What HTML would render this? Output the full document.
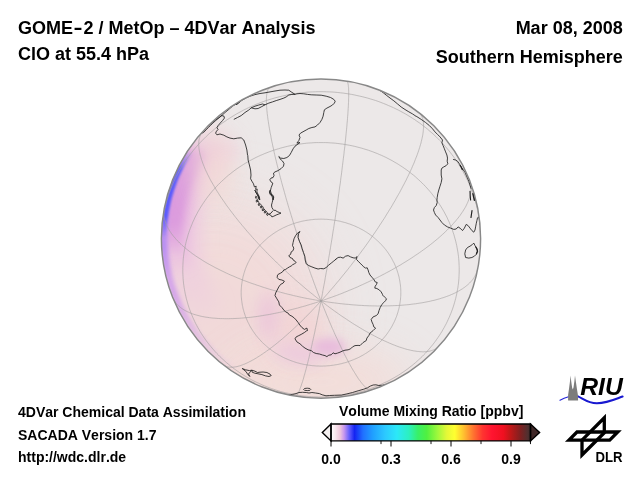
<!DOCTYPE html>
<html><head><meta charset="utf-8"><title>GOME-2 / MetOp - 4DVar Analysis</title>
<style>
html,body{margin:0;padding:0;background:#fff;}
body{width:640px;height:480px;overflow:hidden;position:relative;font-family:"Liberation Sans",Arial,Helvetica,sans-serif;font-weight:bold;color:#000;}
.t{position:absolute;white-space:pre;line-height:1;font-kerning:none;}
.big{font-size:18px;}
.sm{font-size:14px;}
svg{position:absolute;left:0;top:0;}
</style></head><body>
<svg width="640" height="480" viewBox="0 0 640 480">
<defs>
<clipPath id="gc"><circle cx="321.0" cy="238.6" r="159.6"/></clipPath>
<filter id="b30" filterUnits="userSpaceOnUse" x="0" y="0" width="640" height="480"><feGaussianBlur stdDeviation="30"/></filter>
<filter id="b20" filterUnits="userSpaceOnUse" x="0" y="0" width="640" height="480"><feGaussianBlur stdDeviation="20"/></filter>
<filter id="b12" filterUnits="userSpaceOnUse" x="0" y="0" width="640" height="480"><feGaussianBlur stdDeviation="12"/></filter>
<filter id="b8" filterUnits="userSpaceOnUse" x="0" y="0" width="640" height="480"><feGaussianBlur stdDeviation="8"/></filter>
<filter id="b5" filterUnits="userSpaceOnUse" x="0" y="0" width="640" height="480"><feGaussianBlur stdDeviation="5"/></filter>
<filter id="b3" filterUnits="userSpaceOnUse" x="0" y="0" width="640" height="480"><feGaussianBlur stdDeviation="3"/></filter>
<filter id="b2" filterUnits="userSpaceOnUse" x="0" y="0" width="640" height="480"><feGaussianBlur stdDeviation="2"/></filter>
<filter id="b1" filterUnits="userSpaceOnUse" x="0" y="0" width="640" height="480"><feGaussianBlur stdDeviation="1.1"/></filter>
<linearGradient id="lg1" gradientUnits="userSpaceOnUse" x1="0" y1="120" x2="0" y2="330"><stop offset="0" stop-color="#eecbe0" stop-opacity="0"/><stop offset="0.2" stop-color="#eecbe0" stop-opacity="1"/><stop offset="0.6" stop-color="#eecbe0" stop-opacity="1"/><stop offset="1" stop-color="#eecbe0" stop-opacity="0"/></linearGradient><linearGradient id="lg2" gradientUnits="userSpaceOnUse" x1="0" y1="132" x2="0" y2="275"><stop offset="0" stop-color="#e6b4e0" stop-opacity="0"/><stop offset="0.2" stop-color="#e6b4e0" stop-opacity="1"/><stop offset="0.65" stop-color="#e6b4e0" stop-opacity="1"/><stop offset="1" stop-color="#e6b4e0" stop-opacity="0"/></linearGradient><linearGradient id="lg3" gradientUnits="userSpaceOnUse" x1="0" y1="143" x2="0" y2="255"><stop offset="0" stop-color="#dc9cde" stop-opacity="0"/><stop offset="0.12" stop-color="#dc9cde" stop-opacity="1"/><stop offset="0.7" stop-color="#dc9cde" stop-opacity="1"/><stop offset="1" stop-color="#dc9cde" stop-opacity="0"/></linearGradient><linearGradient id="lg4" gradientUnits="userSpaceOnUse" x1="0" y1="215" x2="0" y2="372"><stop offset="0" stop-color="#d4a4ea" stop-opacity="0"/><stop offset="0.15" stop-color="#d4a4ea" stop-opacity="1"/><stop offset="0.5" stop-color="#d4a4ea" stop-opacity="1"/><stop offset="1" stop-color="#d4a4ea" stop-opacity="0"/></linearGradient><linearGradient id="lg5" gradientUnits="userSpaceOnUse" x1="0" y1="195" x2="0" y2="280"><stop offset="0" stop-color="#b48cf4" stop-opacity="0"/><stop offset="0.3" stop-color="#b48cf4" stop-opacity="1"/><stop offset="0.6" stop-color="#b48cf4" stop-opacity="1"/><stop offset="1" stop-color="#b48cf4" stop-opacity="0"/></linearGradient><linearGradient id="lg6" gradientUnits="userSpaceOnUse" x1="0" y1="150" x2="0" y2="238"><stop offset="0" stop-color="#5c5cfc" stop-opacity="0"/><stop offset="0.22" stop-color="#5c5cfc" stop-opacity="1"/><stop offset="0.75" stop-color="#5c5cfc" stop-opacity="1"/><stop offset="1" stop-color="#5c5cfc" stop-opacity="0"/></linearGradient><linearGradient id="cb" x1="0" x2="1" y1="0" y2="0">
<stop offset="0" stop-color="#ffffff"/>
<stop offset="0.02" stop-color="#faeaf0"/>
<stop offset="0.045" stop-color="#f0c8dc"/>
<stop offset="0.065" stop-color="#c898ee"/>
<stop offset="0.09" stop-color="#6a62fc"/>
<stop offset="0.118" stop-color="#1424f2"/>
<stop offset="0.16" stop-color="#2070ff"/>
<stop offset="0.21" stop-color="#20a0ff"/>
<stop offset="0.27" stop-color="#2cc8ff"/>
<stop offset="0.33" stop-color="#2ce8f8"/>
<stop offset="0.39" stop-color="#2cf0c0"/>
<stop offset="0.435" stop-color="#38f068"/>
<stop offset="0.48" stop-color="#50f040"/>
<stop offset="0.535" stop-color="#a0f83c"/>
<stop offset="0.58" stop-color="#e4f838"/>
<stop offset="0.62" stop-color="#ffff30"/>
<stop offset="0.665" stop-color="#ffc030"/>
<stop offset="0.713" stop-color="#ff7430"/>
<stop offset="0.76" stop-color="#ff3430"/>
<stop offset="0.807" stop-color="#ff1430"/>
<stop offset="0.864" stop-color="#f01020"/>
<stop offset="0.9" stop-color="#c01818"/>
<stop offset="0.949" stop-color="#802020"/>
<stop offset="0.986" stop-color="#503030"/>
<stop offset="1" stop-color="#402828"/>
</linearGradient>
</defs>
<circle cx="321.0" cy="238.6" r="159.6" fill="#ece8e8"/>
<g clip-path="url(#gc)" id="field">
<ellipse cx="212" cy="312" rx="112" ry="112" fill="#f2d9d8" filter="url(#b30)" opacity="0.95"/>
<ellipse cx="320" cy="382" rx="90" ry="36" fill="#f3dcd8" filter="url(#b20)" opacity="0.9"/>
<path d="M224.9,131.9L221.0,135.5L217.3,139.3L213.6,143.2L210.2,147.3L206.9,151.5L203.7,155.7L200.7,160.2L197.9,164.7L195.2,169.3L192.7,174.0L190.4,178.8L188.3,183.7L186.4,188.7L184.6,193.7L183.0,198.8L181.6,203.9L180.5,209.1L179.5,214.4L178.7,219.6L178.1,224.9L177.6,230.2L177.4,235.6L177.4,240.9L177.6,246.2L178.0,251.5L178.6,256.8L179.3,262.1L180.3,267.3L181.5,272.5L182.8,277.7L184.4,282.8L186.1,287.8L188.0,292.8L190.1,297.7L192.4,302.5L194.9,307.2L197.5,311.9L200.3,316.4L203.3,320.8" fill="none" stroke="url(#lg1)" stroke-width="46" filter="url(#b8)"/>
<path d="M211.2,140.0L208.8,142.8L206.4,145.5L204.2,148.4L202.0,151.3L199.9,154.3L197.8,157.3L195.9,160.3L194.0,163.5L192.1,166.6L190.4,169.8L188.8,173.0L187.2,176.3L185.7,179.6L184.3,183.0L182.9,186.4L181.7,189.8L180.5,193.3L179.5,196.7L178.5,200.2L177.6,203.8L176.8,207.3L176.0,210.9L175.4,214.4L174.8,218.0L174.4,221.7L174.0,225.3L173.7,228.9L173.5,232.5L173.4,236.2L173.4,239.8L173.5,243.4L173.6,247.1L173.9,250.7L174.2,254.3L174.7,258.0L175.2,261.6L175.8,265.1L176.5,268.7L177.3,272.3" fill="none" stroke="url(#lg2)" stroke-width="30" filter="url(#b5)"/>
<path d="M200.4,148.4L198.7,150.7L197.0,153.1L195.4,155.4L193.9,157.9L192.4,160.3L190.9,162.8L189.5,165.3L188.1,167.8L186.7,170.4L185.5,172.9L184.2,175.5L183.1,178.2L181.9,180.8L180.9,183.5L179.8,186.2L178.8,188.9L177.9,191.6L177.1,194.3L176.2,197.1L175.5,199.9L174.8,202.7L174.1,205.5L173.5,208.3L172.9,211.1L172.4,213.9L172.0,216.8L171.6,219.6L171.3,222.5L171.0,225.3L170.8,228.2L170.6,231.1L170.5,234.0L170.4,236.8L170.4,239.7L170.5,242.6L170.6,245.5L170.7,248.3L170.9,251.2L171.2,254.1" fill="none" stroke="url(#lg3)" stroke-width="22" filter="url(#b3)"/>
<path d="M165.6,215.4L165.0,219.9L164.5,224.5L164.2,229.0L164.0,233.6L163.9,238.2L164.0,242.8L164.1,247.4L164.5,251.9L164.9,256.5L165.5,261.1L166.2,265.6L167.1,270.1L168.1,274.6L169.2,279.0L170.4,283.4L171.8,287.8L173.3,292.1L174.9,296.4L176.7,300.6L178.5,304.8L180.5,309.0L182.7,313.0L184.9,317.0L187.2,321.0L189.7,324.8L192.3,328.6L194.9,332.4L197.7,336.0L200.6,339.5L203.6,343.0L206.7,346.4L209.9,349.7L213.2,352.9L216.6,356.0L220.1,359.0L223.6,361.9L227.2,364.7L231.0,367.3L234.8,369.9" fill="none" stroke="url(#lg4)" stroke-width="7.5" filter="url(#b2)"/>
<path d="M169.4,195.5L168.8,197.6L168.3,199.8L167.7,201.9L167.2,204.0L166.8,206.1L166.3,208.3L165.9,210.4L165.6,212.5L165.2,214.7L164.9,216.8L164.6,219.0L164.4,221.2L164.1,223.3L163.9,225.5L163.8,227.7L163.6,229.9L163.5,232.0L163.5,234.2L163.4,236.4L163.4,238.6L163.4,240.7L163.5,242.9L163.5,245.1L163.6,247.3L163.8,249.4L163.9,251.6L164.1,253.8L164.4,256.0L164.6,258.1L164.9,260.3L165.2,262.4L165.6,264.6L165.9,266.7L166.3,268.9L166.8,271.0L167.2,273.1L167.7,275.3L168.2,277.4L168.8,279.5" fill="none" stroke="url(#lg5)" stroke-width="6" filter="url(#b2)"/>
<path d="M190.2,151.3L189.0,153.3L187.7,155.3L186.5,157.3L185.3,159.3L184.1,161.4L182.9,163.4L181.8,165.5L180.7,167.6L179.7,169.7L178.7,171.8L177.7,174.0L176.7,176.1L175.8,178.3L174.9,180.5L174.1,182.7L173.3,184.9L172.5,187.1L171.7,189.4L171.0,191.6L170.3,193.9L169.6,196.1L169.0,198.4L168.4,200.7L167.9,203.0L167.4,205.3L166.9,207.6L166.4,209.9L166.0,212.2L165.7,214.5L165.3,216.9L165.0,219.2L164.7,221.5L164.5,223.9L164.3,226.2L164.1,228.6L164.0,230.9L163.9,233.3L163.8,235.7L163.8,238.0" fill="none" stroke="url(#lg6)" stroke-width="5.4" filter="url(#b1)"/>
<ellipse cx="300" cy="328" rx="24" ry="28" fill="#f2d3d4" filter="url(#b12)" opacity="0.9"/>
<ellipse cx="268" cy="316" rx="9" ry="24" fill="#ecc6da" filter="url(#b8)"/>
<ellipse cx="298" cy="354" rx="26" ry="8" fill="#ecc8de" filter="url(#b8)" transform="rotate(12 298 354)"/>
<ellipse cx="329" cy="347" rx="17" ry="9" fill="#e8bcdc" filter="url(#b5)"/>
<ellipse cx="214" cy="168" rx="20" ry="40" fill="#f2dad6" filter="url(#b12)" opacity="0.85"/>
</g>
<path d="M321.0,301.0L320.5,303.5L320.0,306.0L319.5,308.4L319.1,310.9L318.6,313.3L318.1,315.7L317.6,318.1L317.1,320.5L316.7,322.8L316.2,325.1L315.7,327.4L315.2,329.7L314.8,331.9L314.3,334.1L313.8,336.3L313.4,338.4L312.9,340.5L312.4,342.6L312.0,344.7L311.5,346.7L311.1,348.7L310.6,350.6L310.2,352.5L309.7,354.4L309.3,356.3L308.9,358.1L308.4,359.8L308.0,361.6L307.6,363.3L307.1,364.9L306.7,366.6L306.3,368.2L305.9,369.7L305.5,371.2L305.1,372.7L304.7,374.1L304.3,375.5L303.9,376.8L303.6,378.1L303.2,379.4L302.8,380.6L302.5,381.8L302.1,382.9L301.7,384.0L301.4,385.0L301.1,386.0L300.7,386.9L300.4,387.8L300.1,388.7L299.8,389.5L299.5,390.3L299.2,391.0L298.9,391.7L298.6,392.3L298.3,392.9L298.0,393.4L297.8,393.9L297.5,394.3L297.2,394.7L297.0,395.1L296.8,395.4L296.5,395.6L296.3,395.8L296.1,396.0L295.9,396.1L295.7,396.1L295.5,396.1M321.0,301.0L319.2,302.9L317.4,304.9L315.6,306.8L313.8,308.7L312.1,310.5L310.3,312.4L308.5,314.2L306.7,316.0L305.0,317.8L303.2,319.6L301.4,321.3L299.7,323.0L297.9,324.7L296.2,326.3L294.4,328.0L292.7,329.6L291.0,331.1L289.3,332.7L287.6,334.2L285.9,335.7L284.2,337.2L282.6,338.6L280.9,340.0L279.3,341.3L277.6,342.7L276.0,344.0L274.4,345.3L272.8,346.5L271.3,347.7L269.7,348.9L268.2,350.0L266.6,351.1L265.1,352.2L263.6,353.2L262.2,354.2L260.7,355.2L259.3,356.1L257.8,357.0L256.4,357.9L255.1,358.7L253.7,359.5L252.4,360.2L251.0,361.0L249.7,361.6L248.5,362.3L247.2,362.9L246.0,363.4L244.8,364.0L243.6,364.4L242.4,364.9L241.3,365.3L240.2,365.7L239.1,366.0L238.0,366.3L237.0,366.6L235.9,366.8L235.0,366.9L234.0,367.1L233.1,367.2L232.2,367.2L231.3,367.3L230.4,367.2L229.6,367.2L228.8,367.1L228.0,367.0L227.3,366.8L226.6,366.6L225.9,366.3L225.2,366.0L224.6,365.7L224.0,365.3M321.0,301.0L318.4,301.8L315.8,302.7L313.2,303.5L310.5,304.3L307.9,305.1L305.3,305.9L302.7,306.6L300.1,307.3L297.5,308.1L295.0,308.7L292.4,309.4L289.8,310.0L287.3,310.7L284.7,311.3L282.2,311.8L279.7,312.4L277.2,312.9L274.7,313.4L272.2,313.9L269.7,314.4L267.3,314.8L264.8,315.2L262.4,315.6L260.0,316.0L257.6,316.4L255.3,316.7L252.9,317.0L250.6,317.3L248.3,317.5L246.0,317.7L243.8,317.9L241.5,318.1L239.3,318.3L237.1,318.4L235.0,318.5L232.8,318.6L230.7,318.6L228.7,318.7L226.6,318.7L224.6,318.7L222.6,318.6L220.6,318.6L218.7,318.5L216.8,318.4L215.0,318.2L213.1,318.1L211.3,317.9L209.5,317.7L207.8,317.4L206.1,317.2L204.4,316.9L202.8,316.6L201.2,316.3L199.7,315.9L198.1,315.5L196.7,315.1L195.2,314.7L193.8,314.3L192.4,313.8L191.1,313.3L189.8,312.8L188.6,312.2L187.4,311.7L186.2,311.1L185.1,310.5L184.0,309.9L182.9,309.2L181.9,308.5L181.0,307.9L180.1,307.1L179.2,306.4L178.4,305.7L177.6,304.9L176.8,304.1L176.1,303.3L175.5,302.4L174.9,301.6L174.3,300.7L173.8,299.8L173.3,298.9L172.9,298.0M321.0,301.0L318.3,300.5L315.5,300.0L312.8,299.5L310.0,299.0L307.3,298.5L304.6,298.0L301.8,297.4L299.1,296.8L296.4,296.2L293.7,295.6L291.0,294.9L288.3,294.3L285.6,293.6L283.0,292.9L280.3,292.2L277.7,291.5L275.0,290.8L272.4,290.0L269.8,289.3L267.2,288.5L264.7,287.7L262.1,286.9L259.6,286.0L257.1,285.2L254.6,284.3L252.1,283.5L249.6,282.6L247.2,281.7L244.8,280.8L242.4,279.9L240.0,278.9L237.7,278.0L235.4,277.0L233.1,276.0L230.8,275.1L228.6,274.1L226.4,273.1L224.2,272.0L222.1,271.0L220.0,270.0L217.9,268.9L215.8,267.9L213.8,266.8L211.8,265.7L209.9,264.7L207.9,263.6L206.0,262.5L204.2,261.4L202.4,260.3L200.6,259.1L198.9,258.0L197.1,256.9L195.5,255.8L193.8,254.6L192.2,253.5L190.7,252.3L189.2,251.2L187.7,250.0L186.3,248.9L184.9,247.7L183.5,246.5L182.2,245.4L181.0,244.2L179.7,243.0L178.6,241.8L177.4,240.7L176.3,239.5L175.3,238.3L174.3,237.1L173.3,236.0L172.4,234.8L171.5,233.6L170.7,232.4L169.9,231.3L169.2,230.1L168.5,228.9L167.9,227.8L167.3,226.6L166.7,225.5L166.2,224.3L165.8,223.2L165.4,222.0L165.0,220.9L164.7,219.7L164.4,218.6L164.2,217.5L164.0,216.4L163.9,215.3L163.8,214.2L163.8,213.1L163.8,212.0L163.9,210.9L164.0,209.9L164.2,208.8M321.0,301.0L318.9,299.3L316.7,297.6L314.6,295.9L312.5,294.2L310.3,292.5L308.2,290.7L306.1,289.0L304.0,287.2L301.9,285.4L299.8,283.6L297.7,281.8L295.6,280.0L293.5,278.1L291.4,276.3L289.4,274.4L287.3,272.5L285.3,270.6L283.2,268.7L281.2,266.8L279.2,264.9L277.2,263.0L275.2,261.0L273.2,259.1L271.3,257.2L269.3,255.2L267.4,253.3L265.5,251.3L263.6,249.3L261.7,247.4L259.9,245.4L258.0,243.4L256.2,241.4L254.4,239.5L252.6,237.5L250.9,235.5L249.1,233.5L247.4,231.6L245.7,229.6L244.1,227.6L242.4,225.7L240.8,223.7L239.2,221.8L237.6,219.8L236.1,217.9L234.5,215.9L233.1,214.0L231.6,212.1L230.1,210.1L228.7,208.2L227.3,206.3L226.0,204.5L224.7,202.6L223.4,200.7L222.1,198.9L220.8,197.0L219.6,195.2L218.5,193.4L217.3,191.6L216.2,189.8L215.1,188.0L214.1,186.2L213.1,184.5L212.1,182.8L211.1,181.1L210.2,179.4L209.3,177.7L208.5,176.0L207.6,174.4L206.9,172.8L206.1,171.2L205.4,169.6L204.7,168.1L204.1,166.5L203.5,165.0L202.9,163.5L202.4,162.1L201.9,160.6L201.4,159.2L201.0,157.8L200.6,156.4L200.2,155.1L199.9,153.8L199.7,152.5L199.4,151.2L199.2,150.0L199.0,148.7L198.9,147.6L198.8,146.4L198.8,145.3L198.7,144.2L198.8,143.1L198.8,142.0L198.9,141.0L199.0,140.0L199.2,139.1L199.4,138.2L199.7,137.3L199.9,136.4L200.2,135.6L200.6,134.8L201.0,134.0L201.4,133.3L201.9,132.6L202.4,131.9L202.9,131.2M321.0,301.0L320.0,298.5L319.1,296.1L318.1,293.7L317.2,291.2L316.2,288.7L315.3,286.2L314.3,283.7L313.4,281.1L312.5,278.6L311.5,276.0L310.6,273.5L309.7,270.9L308.7,268.3L307.8,265.7L306.9,263.1L306.0,260.5L305.0,257.9L304.1,255.2L303.2,252.6L302.3,250.0L301.4,247.3L300.6,244.7L299.7,242.1L298.8,239.4L297.9,236.8L297.1,234.1L296.2,231.5L295.4,228.8L294.5,226.2L293.7,223.6L292.9,221.0L292.1,218.3L291.3,215.7L290.5,213.1L289.7,210.5L288.9,207.9L288.1,205.3L287.4,202.7L286.6,200.2L285.9,197.6L285.2,195.1L284.5,192.6L283.8,190.1L283.1,187.6L282.4,185.1L281.7,182.6L281.1,180.2L280.4,177.7L279.8,175.3L279.2,172.9L278.6,170.6L278.0,168.2L277.4,165.9L276.8,163.6L276.3,161.3L275.7,159.0L275.2,156.8L274.7,154.6L274.2,152.4L273.7,150.2L273.3,148.1L272.8,146.0L272.4,143.9L271.9,141.9L271.5,139.8L271.1,137.8L270.8,135.9L270.4,134.0L270.0,132.1L269.7,130.2L269.4,128.4L269.1,126.6L268.8,124.8L268.5,123.1L268.3,121.4L268.0,119.7L267.8,118.1L267.6,116.5L267.4,115.0L267.2,113.5L267.1,112.0L266.9,110.6L266.8,109.2L266.7,107.8L266.6,106.5L266.5,105.2L266.5,104.0L266.4,102.8L266.4,101.7L266.4,100.5L266.4,99.5L266.4,98.5L266.5,97.5L266.5,96.5L266.6,95.6L266.7,94.8L266.8,94.0L266.9,93.2L267.1,92.5L267.2,91.8L267.4,91.2L267.6,90.6L267.8,90.1L268.0,89.6L268.3,89.1L268.5,88.7L268.8,88.3L269.1,88.0L269.4,87.8L269.7,87.5L270.0,87.4M321.0,301.0L321.5,298.4L322.0,295.9L322.5,293.3L322.9,290.7L323.4,288.1L323.9,285.5L324.4,282.9L324.9,280.2L325.3,277.6L325.8,274.9L326.3,272.2L326.8,269.5L327.2,266.8L327.7,264.1L328.2,261.4L328.6,258.7L329.1,255.9L329.6,253.2L330.0,250.5L330.5,247.7L330.9,245.0L331.4,242.2L331.8,239.5L332.3,236.7L332.7,234.0L333.1,231.2L333.6,228.5L334.0,225.7L334.4,223.0L334.9,220.3L335.3,217.5L335.7,214.8L336.1,212.1L336.5,209.4L336.9,206.7L337.3,204.0L337.7,201.3L338.1,198.7L338.4,196.0L338.8,193.4L339.2,190.7L339.5,188.1L339.9,185.5L340.3,183.0L340.6,180.4L340.9,177.8L341.3,175.3L341.6,172.8L341.9,170.3L342.2,167.9L342.5,165.4L342.8,163.0L343.1,160.6L343.4,158.2L343.7,155.9L344.0,153.5L344.2,151.2L344.5,148.9L344.8,146.7L345.0,144.5L345.2,142.3L345.5,140.1L345.7,138.0L345.9,135.9L346.1,133.8L346.3,131.8L346.5,129.8L346.7,127.8L346.9,125.9L347.0,124.0L347.2,122.1L347.4,120.3L347.5,118.5L347.6,116.7L347.8,115.0L347.9,113.3L348.0,111.7L348.1,110.0L348.2,108.5L348.3,106.9L348.4,105.5L348.4,104.0L348.5,102.6L348.6,101.2L348.6,99.9L348.6,98.6L348.7,97.4L348.7,96.2L348.7,95.0L348.7,93.9L348.7,92.9L348.7,91.8L348.7,90.9L348.6,89.9L348.6,89.0L348.6,88.2L348.5,87.4L348.4,86.6L348.4,85.9L348.3,85.3L348.2,84.7L348.1,84.1L348.0,83.6L347.9,83.1L347.8,82.7L347.6,82.3L347.5,82.0L347.4,81.7L347.2,81.5L347.0,81.3L346.9,81.2L346.7,81.1M321.0,301.0L322.8,299.0L324.6,297.0L326.4,295.0L328.2,293.0L329.9,290.9L331.7,288.9L333.5,286.8L335.3,284.7L337.0,282.6L338.8,280.5L340.6,278.3L342.3,276.2L344.1,274.0L345.8,271.9L347.6,269.7L349.3,267.5L351.0,265.3L352.7,263.1L354.4,260.9L356.1,258.7L357.8,256.5L359.4,254.3L361.1,252.0L362.7,249.8L364.4,247.6L366.0,245.3L367.6,243.1L369.2,240.8L370.7,238.6L372.3,236.3L373.8,234.1L375.4,231.8L376.9,229.6L378.4,227.4L379.8,225.1L381.3,222.9L382.7,220.7L384.2,218.5L385.6,216.2L386.9,214.0L388.3,211.8L389.6,209.6L391.0,207.5L392.3,205.3L393.5,203.1L394.8,201.0L396.0,198.8L397.2,196.7L398.4,194.6L399.6,192.5L400.7,190.4L401.8,188.3L402.9,186.2L404.0,184.2L405.0,182.2L406.1,180.2L407.0,178.2L408.0,176.2L408.9,174.3L409.8,172.3L410.7,170.4L411.6,168.5L412.4,166.6L413.2,164.8L414.0,163.0L414.7,161.2L415.4,159.4L416.1,157.6L416.8,155.9L417.4,154.2L418.0,152.5L418.6,150.8L419.1,149.2L419.6,147.6L420.1,146.0L420.5,144.5L421.0,143.0L421.3,141.5L421.7,140.0L422.0,138.6L422.3,137.2L422.6,135.8L422.8,134.5L423.0,133.2L423.2,131.9L423.3,130.7L423.4,129.5L423.5,128.3L423.6,127.2L423.6,126.1L423.6,125.0L423.5,124.0L423.4,122.9L423.3,122.0L423.2,121.1L423.0,120.2L422.8,119.3L422.6,118.5L422.3,117.7L422.0,116.9L421.7,116.2L421.3,115.6L421.0,114.9L420.5,114.3L420.1,113.8L419.6,113.2L419.1,112.7L418.6,112.3M321.0,301.0L323.6,300.1L326.2,299.2L328.8,298.2L331.5,297.3L334.1,296.3L336.7,295.4L339.3,294.4L341.9,293.4L344.5,292.3L347.0,291.3L349.6,290.2L352.2,289.2L354.7,288.1L357.3,287.0L359.8,285.8L362.3,284.7L364.8,283.5L367.3,282.4L369.8,281.2L372.3,280.0L374.7,278.8L377.2,277.6L379.6,276.4L382.0,275.1L384.4,273.9L386.7,272.6L389.1,271.4L391.4,270.1L393.7,268.8L396.0,267.5L398.2,266.2L400.5,264.9L402.7,263.5L404.9,262.2L407.0,260.9L409.2,259.5L411.3,258.2L413.3,256.8L415.4,255.4L417.4,254.1L419.4,252.7L421.4,251.3L423.3,249.9L425.2,248.6L427.0,247.2L428.9,245.8L430.7,244.4L432.5,243.0L434.2,241.6L435.9,240.2L437.6,238.8L439.2,237.4L440.8,236.0L442.3,234.6L443.9,233.2L445.3,231.8L446.8,230.4L448.2,229.0L449.6,227.6L450.9,226.3L452.2,224.9L453.4,223.5L454.6,222.1L455.8,220.8L456.9,219.4L458.0,218.1L459.1,216.7L460.1,215.4L461.0,214.0L461.9,212.7L462.8,211.4L463.6,210.1L464.4,208.8L465.2,207.5L465.9,206.2L466.5,204.9L467.1,203.7L467.7,202.4L468.2,201.2L468.7,199.9L469.1,198.7L469.5,197.5L469.9,196.3L470.2,195.1L470.4,194.0L470.6,192.8L470.8,191.7L470.9,190.6L471.0,189.4L471.0,188.4L471.0,187.3L470.9,186.2L470.8,185.2L470.6,184.1L470.4,183.1L470.2,182.1L469.9,181.1L469.5,180.2M321.0,301.0L323.7,301.4L326.5,301.8L329.2,302.2L332.0,302.6L334.7,302.9L337.4,303.3L340.2,303.6L342.9,303.9L345.6,304.2L348.3,304.4L351.0,304.7L353.7,304.9L356.4,305.1L359.0,305.3L361.7,305.4L364.3,305.6L367.0,305.7L369.6,305.8L372.2,305.9L374.8,305.9L377.3,306.0L379.9,306.0L382.4,306.0L384.9,305.9L387.4,305.9L389.9,305.8L392.4,305.7L394.8,305.6L397.2,305.5L399.6,305.4L402.0,305.2L404.3,305.0L406.6,304.8L408.9,304.6L411.2,304.3L413.4,304.0L415.6,303.8L417.8,303.4L419.9,303.1L422.0,302.8L424.1,302.4L426.2,302.0L428.2,301.6L430.2,301.2L432.1,300.7L434.1,300.3L436.0,299.8L437.8,299.3L439.6,298.8L441.4,298.2L443.1,297.7L444.9,297.1L446.5,296.5L448.2,295.9L449.8,295.3L451.3,294.6L452.8,294.0L454.3,293.3L455.7,292.6L457.1,291.9L458.5,291.1L459.8,290.4L461.0,289.6L462.3,288.9L463.4,288.1L464.6,287.3L465.7,286.4L466.7,285.6L467.7,284.8L468.7,283.9L469.6,283.0L470.5,282.1L471.3,281.2L472.1,280.3L472.8,279.4L473.5,278.4L474.1,277.5L474.7,276.5L475.3,275.5L475.8,274.6L476.2,273.6L476.6,272.5L477.0,271.5L477.3,270.5L477.6,269.4M321.0,301.0L323.1,302.6L325.3,304.2L327.4,305.8L329.5,307.4L331.7,309.0L333.8,310.5L335.9,312.0L338.0,313.5L340.1,315.0L342.2,316.4L344.3,317.8L346.4,319.2L348.5,320.6L350.6,322.0L352.6,323.3L354.7,324.6L356.7,325.8L358.8,327.1L360.8,328.3L362.8,329.5L364.8,330.7L366.8,331.8L368.8,332.9L370.7,334.0L372.7,335.0L374.6,336.0L376.5,337.0L378.4,338.0L380.3,338.9L382.1,339.8L384.0,340.7L385.8,341.5L387.6,342.3L389.4,343.1L391.1,343.8L392.9,344.6L394.6,345.2L396.3,345.9L397.9,346.5L399.6,347.1L401.2,347.6L402.8,348.1L404.4,348.6L405.9,349.1L407.5,349.5L408.9,349.8L410.4,350.2L411.9,350.5L413.3,350.8L414.7,351.0L416.0,351.2L417.3,351.4L418.6,351.5L419.9,351.7L421.2,351.7L422.4,351.8L423.5,351.8L424.7,351.7L425.8,351.7L426.9,351.6L427.9,351.4L428.9,351.3L429.9,351.1L430.9,350.8L431.8,350.5L432.7,350.2L433.5,349.9L434.4,349.5L435.1,349.1L435.9,348.7L436.6,348.2L437.3,347.7L437.9,347.1L438.5,346.6M321.0,301.0L322.0,303.4L322.9,305.7L323.9,308.1L324.8,310.4L325.8,312.8L326.7,315.0L327.7,317.3L328.6,319.6L329.5,321.8L330.5,324.0L331.4,326.2L332.3,328.3L333.3,330.4L334.2,332.5L335.1,334.6L336.0,336.6L337.0,338.6L337.9,340.6L338.8,342.5L339.7,344.4L340.6,346.3L341.4,348.1L342.3,349.9L343.2,351.7L344.1,353.5L344.9,355.2L345.8,356.8L346.6,358.5L347.5,360.1L348.3,361.6L349.1,363.2L349.9,364.6L350.7,366.1L351.5,367.5L352.3,368.9L353.1,370.2L353.9,371.5L354.6,372.7L355.4,373.9L356.1,375.1L356.8,376.2L357.5,377.3L358.2,378.4L358.9,379.4L359.6,380.3L360.3,381.2L360.9,382.1L361.6,382.9L362.2,383.7L362.8,384.4L363.4,385.1L364.0,385.8L364.6,386.4L365.2,386.9L365.7,387.5L366.3,387.9L366.8,388.3L367.3,388.7L367.8,389.1L368.3,389.3L368.7,389.6L369.2,389.8L369.6,389.9L370.1,390.0L370.5,390.1L370.9,390.1L371.2,390.0L371.6,390.0M307.1,364.9L305.8,364.7L304.4,364.5L303.0,364.2L301.7,363.9L300.3,363.6L299.0,363.2L297.7,362.9L296.3,362.5L295.0,362.1L293.7,361.6L292.4,361.2L291.1,360.7L289.8,360.2L288.5,359.7L287.3,359.2L286.0,358.6L284.8,358.1L283.5,357.5L282.3,356.9L281.1,356.2L279.9,355.6L278.7,354.9L277.5,354.2L276.4,353.5L275.2,352.8L274.1,352.0L273.0,351.3L271.9,350.5L270.8,349.7L269.7,348.9L268.6,348.0L267.6,347.2L266.6,346.3L265.6,345.4L264.6,344.5L263.6,343.6L262.6,342.7L261.7,341.8L260.8,340.8L259.9,339.8L259.0,338.8L258.1,337.8L257.3,336.8L256.4,335.8L255.6,334.7L254.8,333.7L254.1,332.6L253.3,331.5L252.6,330.4L251.9,329.3L251.2,328.2L250.5,327.1L249.9,326.0L249.3,324.8L248.7,323.6L248.1,322.5L247.5,321.3L247.0,320.1L246.5,318.9L246.0,317.7L245.5,316.5L245.1,315.3L244.7,314.1L244.3,312.9L243.9,311.6L243.6,310.4L243.2,309.1L242.9,307.9L242.7,306.6L242.4,305.4L242.2,304.1L242.0,302.8L241.8,301.6L241.6,300.3L241.5,299.0L241.4,297.7L241.3,296.5L241.2,295.2L241.2,293.9L241.2,292.6L241.2,291.3L241.2,290.0L241.3,288.8L241.4,287.5L241.5,286.2L241.6,284.9L241.8,283.7L242.0,282.4L242.2,281.1L242.4,279.9L242.7,278.6L242.9,277.3L243.2,276.1L243.6,274.8L243.9,273.6L244.3,272.4L244.7,271.1L245.1,269.9L245.5,268.7L246.0,267.5L246.5,266.3L247.0,265.1L247.5,263.9L248.1,262.7L248.7,261.6L249.3,260.4L249.9,259.3L250.5,258.1L251.2,257.0L251.9,255.9L252.6,254.8L253.3,253.7L254.1,252.6L254.8,251.5L255.6,250.5L256.4,249.4L257.3,248.4L258.1,247.4L259.0,246.4L259.9,245.4L260.8,244.4L261.7,243.5L262.6,242.5L263.6,241.6L264.6,240.7L265.6,239.8L266.6,238.9L267.6,238.0L268.6,237.2L269.7,236.3L270.8,235.5L271.9,234.7L273.0,233.9L274.1,233.2L275.2,232.4L276.4,231.7L277.5,231.0L278.7,230.3L279.9,229.6L281.1,229.0L282.3,228.4L283.5,227.7L284.8,227.2L286.0,226.6L287.3,226.0L288.5,225.5L289.8,225.0L291.1,224.5L292.4,224.0L293.7,223.6L295.0,223.2L296.3,222.7L297.7,222.4L299.0,222.0L300.3,221.7L301.7,221.3L303.0,221.0L304.4,220.8L305.8,220.5L307.1,220.3L308.5,220.1L309.9,219.9L311.3,219.7L312.7,219.6L314.0,219.4L315.4,219.3L316.8,219.3L318.2,219.2L319.6,219.2L321.0,219.1L322.4,219.2L323.8,219.2L325.2,219.3L326.6,219.3L328.0,219.4L329.3,219.6L330.7,219.7L332.1,219.9L333.5,220.1L334.9,220.3L336.2,220.5L337.6,220.8L339.0,221.0L340.3,221.3L341.7,221.7L343.0,222.0L344.3,222.4L345.7,222.7L347.0,223.2L348.3,223.6L349.6,224.0L350.9,224.5L352.2,225.0L353.5,225.5L354.7,226.0L356.0,226.6L357.2,227.2L358.5,227.7L359.7,228.4L360.9,229.0L362.1,229.6L363.3,230.3L364.5,231.0L365.6,231.7L366.8,232.4L367.9,233.2L369.0,233.9L370.1,234.7L371.2,235.5L372.3,236.3L373.4,237.2L374.4,238.0L375.4,238.9L376.4,239.8L377.4,240.7L378.4,241.6L379.4,242.5L380.3,243.5L381.2,244.4L382.1,245.4L383.0,246.4L383.9,247.4L384.7,248.4L385.6,249.4L386.4,250.5L387.2,251.5L387.9,252.6L388.7,253.7L389.4,254.8L390.1,255.9L390.8,257.0L391.5,258.1L392.1,259.3L392.7,260.4L393.3,261.6L393.9,262.7L394.5,263.9L395.0,265.1L395.5,266.3L396.0,267.5L396.5,268.7L396.9,269.9L397.3,271.1L397.7,272.4L398.1,273.6L398.4,274.8L398.8,276.1L399.1,277.3L399.3,278.6L399.6,279.9L399.8,281.1L400.0,282.4L400.2,283.7L400.4,284.9L400.5,286.2L400.6,287.5L400.7,288.8L400.8,290.0L400.8,291.3L400.8,292.6L400.8,293.9L400.8,295.2L400.7,296.5L400.6,297.7L400.5,299.0L400.4,300.3L400.2,301.6L400.0,302.8L399.8,304.1L399.6,305.4L399.3,306.6L399.1,307.9L398.8,309.1L398.4,310.4L398.1,311.6L397.7,312.9L397.3,314.1L396.9,315.3L396.5,316.5L396.0,317.7L395.5,318.9L395.0,320.1L394.5,321.3L393.9,322.5L393.3,323.6L392.7,324.8L392.1,326.0L391.5,327.1L390.8,328.2L390.1,329.3L389.4,330.4L388.7,331.5L387.9,332.6L387.2,333.7L386.4,334.7L385.6,335.8L384.7,336.8L383.9,337.8L383.0,338.8L382.1,339.8L381.2,340.8L380.3,341.8L379.4,342.7L378.4,343.6L377.4,344.5L376.4,345.4L375.4,346.3L374.4,347.2L373.4,348.0L372.3,348.9L371.2,349.7L370.1,350.5L369.0,351.3L367.9,352.0L366.8,352.8L365.6,353.5L364.5,354.2L363.3,354.9L362.1,355.6L360.9,356.2L359.7,356.9L358.5,357.5L357.2,358.1L356.0,358.6L354.7,359.2L353.5,359.7L352.2,360.2L350.9,360.7L349.6,361.2L348.3,361.6L347.0,362.1L345.7,362.5L344.3,362.9L343.0,363.2L341.7,363.6L340.3,363.9L339.0,364.2L337.6,364.5L336.2,364.7L334.9,364.9L333.5,365.2L332.1,365.3L330.7,365.5L329.3,365.7L328.0,365.8L326.6,365.9L325.2,366.0L323.8,366.0L322.4,366.1L321.0,366.1L319.6,366.1L318.2,366.0L316.8,366.0L315.4,365.9L314.0,365.8L312.7,365.7L311.3,365.5L309.9,365.3L308.5,365.2L307.1,364.9M297.0,395.1L294.6,394.7L292.3,394.2L289.9,393.7L287.6,393.2L285.2,392.7L282.9,392.1L280.6,391.5L278.3,390.8L276.0,390.1L273.7,389.3L271.5,388.6L269.2,387.7L267.0,386.9L264.8,386.0L262.6,385.1L260.4,384.1L258.3,383.1L256.1,382.1L254.0,381.1L251.9,380.0L249.8,378.8L247.8,377.7L245.7,376.5L243.7,375.3L241.7,374.0L239.8,372.7L237.8,371.4L235.9,370.0L234.0,368.7L232.2,367.2L230.3,365.8L228.5,364.3L226.7,362.8L225.0,361.3L223.3,359.7L221.6,358.2L219.9,356.6L218.3,354.9L216.7,353.3L215.1,351.6L213.6,349.8L212.1,348.1L210.6,346.3L209.2,344.6L207.8,342.8L206.4,340.9L205.1,339.1L203.8,337.2L202.5,335.3L201.3,333.4L200.1,331.5L199.0,329.5L197.8,327.5L196.8,325.6L195.7,323.6L194.7,321.5L193.8,319.5L192.8,317.4L192.0,315.4L191.1,313.3L190.3,311.2L189.5,309.1L188.8,307.0L188.1,304.8L187.5,302.7L186.9,300.6L186.3,298.4L185.8,296.2L185.3,294.1L184.9,291.9L184.5,289.7L184.1,287.5L183.8,285.3L183.5,283.1L183.3,280.9L183.1,278.7L183.0,276.4L182.9,274.2L182.8,272.0L182.8,269.8L182.8,267.6L182.9,265.3L183.0,263.1L183.1,260.9L183.3,258.7L183.5,256.5L183.8,254.3L184.1,252.1L184.5,249.9L184.9,247.7L185.3,245.5L185.8,243.3L186.3,241.2L186.9,239.0L187.5,236.9L188.1,234.7L188.8,232.6L189.5,230.5L190.3,228.4L191.1,226.3L192.0,224.2L192.8,222.1L193.8,220.1L194.7,218.0L195.7,216.0L196.8,214.0L197.8,212.0L199.0,210.0L200.1,208.1L201.3,206.2L202.5,204.3L203.8,202.4L205.1,200.5L206.4,198.6L207.8,196.8L209.2,195.0L210.6,193.2L212.1,191.4L213.6,189.7L215.1,188.0L216.7,186.3L218.3,184.6L219.9,183.0L221.6,181.4L223.3,179.8L225.0,178.3L226.7,176.7L228.5,175.2L230.3,173.8L232.2,172.3L234.0,170.9L235.9,169.5L237.8,168.2L239.8,166.8L241.7,165.6L243.7,164.3L245.7,163.1L247.8,161.9L249.8,160.7L251.9,159.6L254.0,158.5L256.1,157.4L258.3,156.4L260.4,155.4L262.6,154.5L264.8,153.5L267.0,152.7L269.2,151.8L271.5,151.0L273.7,150.2L276.0,149.5L278.3,148.8L280.6,148.1L282.9,147.5L285.2,146.9L287.6,146.3L289.9,145.8L292.3,145.3L294.6,144.9L297.0,144.5L299.4,144.1L301.8,143.8L304.2,143.5L306.6,143.2L309.0,143.0L311.4,142.9L313.8,142.7L316.2,142.6L318.6,142.6L321.0,142.6L323.4,142.6L325.8,142.6L328.2,142.7L330.6,142.9L333.0,143.0L335.4,143.2L337.8,143.5L340.2,143.8L342.6,144.1L345.0,144.5L347.4,144.9L349.7,145.3L352.1,145.8L354.4,146.3L356.8,146.9L359.1,147.5L361.4,148.1L363.7,148.8L366.0,149.5L368.3,150.2L370.5,151.0L372.8,151.8L375.0,152.7L377.2,153.5L379.4,154.5L381.6,155.4L383.7,156.4L385.9,157.4L388.0,158.5L390.1,159.6L392.2,160.7L394.2,161.9L396.3,163.1L398.3,164.3L400.3,165.6L402.2,166.8L404.2,168.2L406.1,169.5L408.0,170.9L409.8,172.3L411.7,173.8L413.5,175.2L415.3,176.7L417.0,178.3L418.7,179.8L420.4,181.4L422.1,183.0L423.7,184.6L425.3,186.3L426.9,188.0L428.4,189.7L429.9,191.4L431.4,193.2L432.8,195.0L434.2,196.8L435.6,198.6L436.9,200.5L438.2,202.4L439.5,204.3L440.7,206.2L441.9,208.1L443.0,210.0L444.2,212.0L445.2,214.0L446.3,216.0L447.3,218.0L448.2,220.1L449.2,222.1L450.0,224.2L450.9,226.3L451.7,228.4L452.5,230.5L453.2,232.6L453.9,234.7L454.5,236.9L455.1,239.0L455.7,241.2L456.2,243.3L456.7,245.5L457.1,247.7L457.5,249.9L457.9,252.1L458.2,254.3L458.5,256.5L458.7,258.7L458.9,260.9L459.0,263.1L459.1,265.3L459.2,267.6L459.2,269.8L459.2,272.0L459.1,274.2L459.0,276.4L458.9,278.7L458.7,280.9L458.5,283.1L458.2,285.3L457.9,287.5L457.5,289.7L457.1,291.9L456.7,294.1L456.2,296.2L455.7,298.4L455.1,300.6L454.5,302.7L453.9,304.8L453.2,307.0L452.5,309.1L451.7,311.2L450.9,313.3L450.0,315.4L449.2,317.4L448.2,319.5L447.3,321.5L446.3,323.6L445.2,325.6L444.2,327.5L443.0,329.5L441.9,331.5L440.7,333.4L439.5,335.3L438.2,337.2L436.9,339.1L435.6,340.9L434.2,342.8L432.8,344.6L431.4,346.3L429.9,348.1L428.4,349.8L426.9,351.6L425.3,353.3L423.7,354.9L422.1,356.6L420.4,358.2L418.7,359.7L417.0,361.3L415.3,362.8L413.5,364.3L411.7,365.8L409.8,367.2L408.0,368.7L406.1,370.0L404.2,371.4L402.2,372.7L400.3,374.0L398.3,375.3L396.3,376.5L394.2,377.7L392.2,378.8L390.1,380.0L388.0,381.1L385.9,382.1L383.7,383.1L381.6,384.1L379.4,385.1L377.2,386.0L375.0,386.9L372.8,387.7L370.5,388.6L368.3,389.3L366.0,390.1L363.7,390.8L361.4,391.5L359.1,392.1L356.8,392.7L354.4,393.2L352.1,393.7L349.7,394.2L347.4,394.7L345.0,395.1L342.6,395.4L340.2,395.8L337.8,396.1L335.4,396.3L333.0,396.5L330.6,396.7L328.2,396.8L325.8,396.9L323.4,397.0L321.0,397.0L318.6,397.0L316.2,396.9L313.8,396.8L311.4,396.7L309.0,396.5L306.6,396.3L304.2,396.1L301.8,395.8L299.4,395.4L297.0,395.1M161.4,238.6L161.4,236.0L161.5,233.5L161.6,230.9L161.8,228.4L162.0,225.8L162.3,223.2L162.6,220.7L163.0,218.2L163.4,215.6L163.8,213.1L164.3,210.6L164.9,208.1L165.5,205.6L166.1,203.1L166.8,200.6L167.6,198.1L168.4,195.6L169.2,193.2L170.1,190.8L171.0,188.4L172.0,186.0L173.0,183.6L174.1,181.2L175.2,178.8L176.4,176.5L177.6,174.2L178.8,171.9L180.1,169.6L181.4,167.4L182.8,165.1L184.2,162.9L185.7,160.7L187.1,158.6L188.7,156.4L190.3,154.3L191.9,152.2L193.5,150.2L195.2,148.2L197.0,146.1L198.7,144.2L200.5,142.2L202.4,140.3L204.3,138.4L206.2,136.5L208.1,134.7L210.1,132.9L212.2,131.2L214.2,129.4L216.3,127.7L218.4,126.1L220.6,124.4L222.7,122.8L225.0,121.3L227.2,119.7L229.5,118.3L231.8,116.8L234.1,115.4L236.4,114.0L238.8,112.7L241.2,111.4L243.6,110.1L246.1,108.9L248.5,107.7L251.0,106.6L253.6,105.5L256.1,104.4L258.6,103.4L261.2,102.4L263.8,101.4L266.4,100.5L269.0,99.7L271.7,98.9L274.3,98.1L277.0,97.4L279.7,96.7L282.4,96.1L285.1,95.5L287.8,94.9L290.5,94.4L293.3,93.9L296.0,93.5L298.8,93.1L301.5,92.8L304.3,92.5L307.1,92.2L309.9,92.0L312.6,91.9L315.4,91.8L318.2,91.7L321.0,91.7L323.8,91.7L326.6,91.8L329.4,91.9L332.1,92.0L334.9,92.2L337.7,92.5L340.5,92.8L343.2,93.1L346.0,93.5L348.7,93.9L351.5,94.4L354.2,94.9L356.9,95.5L359.6,96.1L362.3,96.7L365.0,97.4L367.7,98.1L370.3,98.9L373.0,99.7L375.6,100.5L378.2,101.4L380.8,102.4L383.4,103.4L385.9,104.4L388.4,105.5L391.0,106.6L393.5,107.7L395.9,108.9L398.4,110.1L400.8,111.4L403.2,112.7L405.6,114.0L407.9,115.4L410.2,116.8L412.5,118.3L414.8,119.7L417.0,121.3L419.3,122.8L421.4,124.4L423.6,126.1L425.7,127.7L427.8,129.4L429.8,131.2L431.9,132.9L433.9,134.7L435.8,136.5L437.7,138.4L439.6,140.3L441.5,142.2L443.3,144.2L445.0,146.1L446.8,148.2L448.5,150.2L450.1,152.2L451.7,154.3L453.3,156.4L454.9,158.6L456.3,160.7L457.8,162.9L459.2,165.1L460.6,167.4L461.9,169.6L463.2,171.9L464.4,174.2L465.6,176.5L466.8,178.8L467.9,181.2L469.0,183.6L470.0,186.0L471.0,188.4L471.9,190.8L472.8,193.2L473.6,195.6L474.4,198.1L475.2,200.6L475.9,203.1L476.5,205.6L477.1,208.1L477.7,210.6L478.2,213.1L478.6,215.6L479.0,218.2L479.4,220.7L479.7,223.2L480.0,225.8L480.2,228.4L480.4,230.9L480.5,233.5L480.6,236.0L480.6,238.6" fill="none" stroke="#a2a0a0" stroke-width="0.6" clip-path="url(#gc)"/>
<path d="M200.6,133.8L203.1,131.0L206.2,127.8L209.4,125.0L212.5,122.2L215.6,120.0L218.8,117.8L221.9,115.6L224.0,116.2L224.4,118.1L222.5,120.6L220.2,123.1L218.1,125.6L216.9,127.8L218.1,129.4L216.5,131.2L215.6,133.1L216.9,134.8L220.0,134.0L223.8,135.2L226.9,136.9L230.0,138.1L233.8,138.8L237.5,138.1L241.2,137.8L243.8,140.0L245.6,145.0L246.9,150.0L247.5,155.0L247.8,155.6L248.1,160.0L249.4,165.0L250.6,170.0L251.0,175.0L250.6,178.8L251.9,181.2L253.5,183.8L254.4,186.9L256.2,186.2L255.6,189.4L257.2,189.0L256.9,191.9L258.1,194.4L259.4,196.9L259.8,200.0L254.8,190.0L256.0,192.5L258.1,195.0L258.8,197.5L257.5,200.0L258.8,202.5L260.6,204.4L262.5,206.2L263.8,208.8L265.6,210.6L267.2,212.5L268.8,214.4L270.6,215.0L271.9,216.9L273.8,216.2L276.2,215.0L278.8,214.0L281.0,213.1L279.4,212.5L276.9,211.5L275.0,210.0L274.0,210.6L273.1,209.4L271.9,207.5L271.5,205.0L272.2,202.5L272.8,200.0L273.5,197.5L272.8,195.0L270.6,193.8L269.8,191.9L270.2,190.0L273.1,200.0L273.8,196.9L271.9,195.6L270.0,194.4L269.4,191.9L270.6,190.0L271.2,187.5L272.2,185.0L272.8,183.1L271.0,181.9L269.8,179.8L271.0,178.1L273.1,177.5L274.0,175.6L273.5,173.1L275.0,171.9L278.1,170.6L281.2,168.5L283.5,166.2L284.0,163.5L282.5,161.0L280.0,158.8L278.8,156.5L280.6,158.1L283.8,158.5L286.9,157.5L289.4,155.6L291.2,152.5L293.1,148.8L295.0,146.2L300.0,142.5L296.9,143.1L298.8,140.6L300.0,137.5L299.0,135.0L300.6,133.1L306.2,130.0L308.8,128.5L311.9,127.5L315.0,126.9L317.5,125.0L320.0,122.5L321.9,119.4L323.1,116.2L323.8,112.5L324.4,109.8L326.9,108.1L330.0,106.5L332.5,105.0L334.4,103.1L335.2,101.2L333.8,99.4L330.6,97.5L326.2,96.2L321.2,95.2L316.2,95.0L311.2,94.8L307.5,94.4L303.8,93.8L300.0,93.5L296.9,93.8L295.0,94.4L293.1,93.1L291.2,91.9L288.8,90.2L285.0,90.0L280.0,90.2L275.0,91.0L270.0,91.9L265.0,92.8L260.0,93.5L255.0,94.6L250.0,96.2L246.2,97.9L242.5,100.0L237.5,103.1L232.5,106.2L228.8,109.4L225.0,112.5L222.6,114.7L220.1,116.7L217.7,118.8L215.3,120.9L212.9,123.1L210.6,125.3L208.3,127.6L206.0,129.9L203.8,132.3ZM251.2,107.8L255.0,108.8L258.1,108.5L261.2,106.9L265.0,104.8M255.8,196.2L257.0,197.2L256.2,198.5L255.4,197.8ZM256.5,200.0L257.8,201.0L257.0,202.2L256.1,201.5ZM258.6,203.5L259.9,204.5L259.1,205.8L258.2,205.0ZM260.8,206.0L262.0,207.0L261.2,208.2L260.4,207.5ZM262.5,208.8L263.8,209.8L263.0,211.0L262.1,210.2ZM264.6,211.0L265.9,212.0L265.1,213.2L264.2,212.5ZM267.0,213.2L268.2,214.2L267.5,215.5L266.6,214.8ZM268.8,214.4L271.0,213.1L273.1,210.6M233.8,119.4L237.5,117.5L241.2,115.6L245.0,112.5L248.8,110.0L251.2,107.8L255.0,106.2L258.8,105.0L262.5,104.0L265.0,104.8L268.8,103.1L272.5,101.9L276.2,100.6L280.0,99.4L283.8,98.1L286.2,96.9L288.8,95.0L291.9,94.4L295.0,94.4M300.0,231.5L297.5,233.1L295.6,235.6L294.0,238.8L293.1,242.5L292.5,245.6L293.8,248.1L293.1,250.6L291.2,251.9L290.6,254.4L288.8,255.6L290.0,257.5L292.5,258.5L293.1,260.0L295.0,261.2L296.2,262.5L294.4,263.8L292.5,264.8L291.2,266.0L289.4,266.9L287.5,268.1L285.6,269.4L283.8,270.0L282.5,271.9L280.6,273.1L278.1,274.4L277.5,275.0L277.2,277.5L278.8,279.4L281.9,280.0L284.4,281.2L283.1,283.1L280.6,284.4L278.8,286.9L277.2,290.0L275.6,293.1L275.0,295.6L276.9,298.8L278.8,301.9L279.4,305.0L281.9,307.5L283.8,310.0L285.6,311.9L288.1,313.1L289.4,315.0L291.9,316.2L294.4,318.1L296.2,320.0L298.1,322.5L299.8,325.0L301.9,327.5L304.4,329.4L306.9,328.1L307.5,330.6L306.9,330.6L304.4,332.5L301.2,334.4L298.8,335.6L296.2,336.9L295.0,338.8L296.9,341.9L300.0,343.8L302.5,346.2L305.0,348.1L308.1,349.8L311.2,350.6L313.5,352.5L316.2,353.5L319.4,354.0L322.5,355.0L325.0,355.6L326.9,356.6L328.8,355.2L331.2,354.8L333.1,352.8L335.0,353.8L337.5,353.1L340.0,352.2L342.5,351.0L345.0,350.2L348.1,349.8L350.6,348.8L352.5,346.9L355.0,345.6L358.1,345.4L360.0,345.6L363.1,342.5L366.2,340.6L366.9,338.1L368.8,335.6L370.0,333.1L373.1,330.6L375.6,328.1L373.8,326.9L373.1,324.4L371.9,321.9L371.2,319.4L373.1,316.9L376.2,315.6L378.1,313.8L379.0,310.6L380.2,307.5L381.9,304.4L383.8,302.5L385.6,300.6L386.5,298.8L384.4,296.9L382.5,295.0L382.5,294.4L381.2,291.9L379.4,290.0L376.9,288.5L374.8,288.1L375.2,286.2L376.5,284.4L377.2,282.5L375.2,281.9L373.8,279.4L371.9,277.2L370.0,275.0L368.8,272.5L368.1,270.0L367.2,267.8L365.6,268.1L363.8,266.9L361.9,265.0L360.0,263.1L358.1,261.2L356.5,259.4L356.9,256.5L355.6,258.1L353.1,257.8L350.6,256.9L348.1,255.6L345.6,256.2L343.1,258.1L340.6,257.2L338.1,257.5L335.6,259.4L336.2,259.0L333.8,261.0L331.2,263.1L328.8,265.0L326.2,267.5L323.8,268.8L320.6,268.5L318.1,269.0L315.0,268.1L311.9,266.9L308.8,265.6L306.2,263.8L305.2,260.0L304.8,256.2L303.5,252.5L302.2,248.8L301.2,245.0L299.4,241.2L298.1,237.5L298.5,233.8ZM380.0,90.5L383.1,92.6L386.2,95.1L390.0,98.0L393.8,100.8L397.5,103.9L401.2,107.0L405.0,109.5L408.8,111.8L412.5,113.9L416.2,116.4L416.2,116.2L421.2,119.4L425.6,122.5L429.4,125.6L432.5,128.8L435.0,131.9L437.5,134.4L440.0,136.9L442.5,140.0L441.9,142.8L443.1,145.6L444.4,148.8L445.6,151.9L446.9,155.0L447.5,158.1L447.2,161.2L447.8,163.8L446.2,165.6L443.8,166.9L441.9,168.1L441.2,170.0L441.2,175.0L441.9,178.8L441.2,182.5L440.0,186.2L438.8,190.0L437.8,193.8L437.2,197.5L436.9,200.0L437.2,202.5L436.2,205.6L434.4,207.5L433.5,210.0L434.4,212.5L435.6,215.0L438.1,217.5L440.0,220.0L441.9,222.5L444.4,225.0L447.5,226.9L450.6,228.1L453.8,229.4L456.2,229.0L458.1,226.9L460.0,228.1L462.5,230.6L464.4,228.1L466.2,224.4L468.1,225.6L470.0,228.1L471.9,230.6L473.8,232.2L475.0,230.0L475.6,226.9L476.2,223.8L476.9,220.6L477.5,218.1L478.5,216.9L479.4,218.8L479.8,221.9L480.1,225.0M453.1,159.4L455.6,160.0L457.5,161.2L459.4,163.8L461.2,166.9L462.5,170.0L460.0,165.0L465.0,172.5L468.8,181.2L471.2,188.8M465.6,257.5L464.8,253.8L465.6,250.0L467.5,247.5L470.0,246.2L472.5,244.4L473.8,243.1L475.0,245.6L476.9,248.8L477.5,251.2L476.2,254.4L474.4,256.2L471.9,257.5L468.8,258.1ZM242.2,368.5L245.6,369.8L249.4,370.6L251.9,370.2L250.0,372.2L248.5,374.0L249.8,376.5L247.5,374.0L246.0,371.5L243.8,369.8ZM251.9,370.2L255.0,371.2L257.5,372.5L260.0,372.2L263.1,372.0L266.9,372.5L270.0,374.1L271.2,375.6L269.0,376.5L265.6,375.9L261.9,374.6L258.1,373.8L254.8,373.2L252.2,372.2ZM288.0,395.1L292.2,394.4L296.0,393.6L298.8,392.5L302.5,392.3L306.2,392.5L309.0,393.0L311.9,392.5L315.6,393.0L319.4,393.6L322.2,394.8L326.0,395.8L329.7,395.5L334.4,395.3L340.0,395.1L341.2,395.1L346.9,393.9L352.5,392.5L358.1,390.8L363.8,389.2L367.5,387.8L370.3,386.1L373.1,385.0L375.9,384.8L378.8,385.5L382.5,385.2L385.3,384.5" fill="none" stroke="#202020" stroke-width="0.85" stroke-linejoin="round" clip-path="url(#gc)"/>
<g clip-path="url(#gc)"><path d="M236.5,104.0L239.0,102.1" fill="none" stroke="#222" stroke-width="1.8" stroke-linecap="round"/><path d="M470.0,191.2L470.2,195.6L470.6,200.0" fill="none" stroke="#222" stroke-width="1.1" stroke-linecap="round"/><path d="M473.1,193.8L473.8,196.9L474.5,200.0" fill="none" stroke="#222" stroke-width="1.8" stroke-linecap="round"/><path d="M472.0,210.6L471.5,214.0L471.0,217.5" fill="none" stroke="#222" stroke-width="1.2" stroke-linecap="round"/><path d="M476.0,247.2L477.1,249.4L477.5,251.2L476.5,253.8" fill="none" stroke="#222" stroke-width="1.3" stroke-linecap="round"/><ellipse cx="307.2" cy="389.4" rx="3.6" ry="1.2" fill="none" stroke="#1a1a1a" stroke-width="0.8"/></g>
<circle cx="321.0" cy="238.6" r="159.6" fill="none" stroke="#888888" stroke-width="1.45"/>
<!-- colorbar -->
<rect x="331" y="424" width="199.5" height="16.9" fill="url(#cb)"/>
<path d="M331,424L322.3,432.4L331,440.9Z" fill="#f4f0f0" stroke="#000" stroke-width="1.4" stroke-linejoin="miter"/>
<path d="M530.5,424L539.6,432.4L530.5,440.9Z" fill="#402828" stroke="#000" stroke-width="1.4" stroke-linejoin="miter"/>
<path d="M331,424H530.5V440.9H331Z" fill="none" stroke="#000" stroke-width="1.4"/>
<path d="M331,440.9v5.6M391,440.9v5.6M451,440.9v5.6M511,440.9v5.6" stroke="#000" stroke-width="1"/>
<path d="M381,440.9v3.2M431,440.9v3.2M481,440.9v3.2M530.5,440.9v3.2" stroke="#000" stroke-width="0.9"/>
<!-- logos -->
<path d="M560,400.2Q564,398.2 568.5,396.8" fill="none" stroke="#2424d8" stroke-width="1.2" stroke-linecap="round"/>
<path d="M578,396.4C583,398.5 588,403.4 597,403.3C607,403.2 614,399.8 622.6,396.6" fill="none" stroke="#1818d0" stroke-width="2.1" stroke-linecap="round"/>
<path d="M568.1,400.6L568.1,395.0L569.0,388.8L570.0,381.2L570.6,375.6L571.2,381.2L572.1,387.5L572.8,389.4L573.5,387.5L574.4,381.2L575.0,375.6L575.8,381.2L576.9,388.8L577.9,395.0L578.1,400.6Z" fill="#7c7c7c"/>
<text x="580.3" y="394.5" font-family="Liberation Sans, Arial, Helvetica, sans-serif" font-weight="bold" font-style="italic" font-size="24" fill="#000" textLength="42.5" lengthAdjust="spacingAndGlyphs">RIU</text>
<path d="M568.9,440.1L577,432H617.8L609.7,440.1Z" fill="none" stroke="#000" stroke-width="3.3" stroke-linejoin="miter"/>
<path d="M604.3,417.8V432.7L582,455V440.1Z" fill="none" stroke="#000" stroke-width="3.3" stroke-linejoin="miter"/>
<text x="595.6" y="461.8" font-family="Liberation Sans, Arial, Helvetica, sans-serif" font-weight="bold" font-size="14" textLength="27" lengthAdjust="spacingAndGlyphs" fill="#000">DLR</text>
</svg>
<div class="t big" style="left:18px;top:19px;">GOME<span style="display:inline-block;margin:0 2.2px;transform:scaleX(1.5)">-</span>2 / MetOp &#8211; 4DVar Analysis</div>
<div class="t big" style="left:18px;top:44.5px;">ClO at 55.4 hPa</div>
<div class="t big" style="right:17.3px;top:19px;">Mar 08, 2008</div>
<div class="t big" style="right:17.3px;top:47.7px;">Southern Hemisphere</div>
<div class="t sm" style="left:18px;top:405.2px;">4DVar Chemical Data Assimilation</div>
<div class="t sm" style="left:18px;top:427.8px;">SACADA Version 1.7</div>
<div class="t sm" style="left:18px;top:450.4px;">http://wdc.dlr.de</div>
<div class="t sm" style="left:339px;top:404px;">Volume Mixing Ratio [ppbv]</div>
<div class="t sm" style="left:321.3px;top:451.5px;">0.0</div>
<div class="t sm" style="left:381.3px;top:451.5px;">0.3</div>
<div class="t sm" style="left:441.3px;top:451.5px;">0.6</div>
<div class="t sm" style="left:501.3px;top:451.5px;">0.9</div>
</body></html>
